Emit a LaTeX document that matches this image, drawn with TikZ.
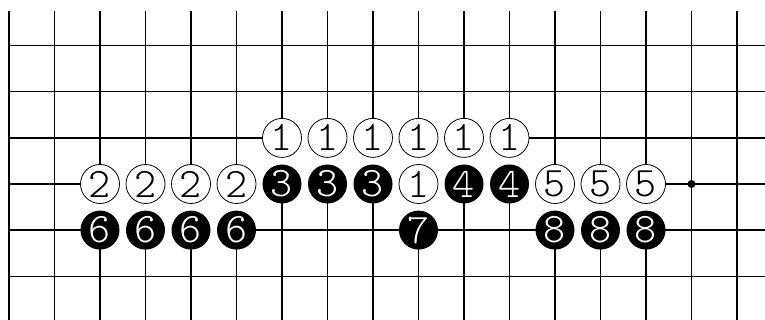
\documentclass[tikz,border=0pt]{standalone}
\newcommand\digitfont{\fontsize{42}{42}\fontfamily{lmtt}\fontseries{l}\selectfont}
\begin{document}
\begin{tikzpicture}[x=1pt,y=-1pt,
  grid/.style={line width=1.4pt,black},
  bridge/.style={line width=5pt,white},
  wst/.style={circle,draw=black,line width=0.8pt,fill=white,minimum size=39pt,inner sep=0pt,font=\digitfont},
  bst/.style={circle,fill=black,text=white,minimum size=39pt,inner sep=0pt,font=\digitfont}]
\useasboundingbox[fill=white] (0,0) rectangle (765,320);
% grid points
\foreach \k in {0,...,16}{
  \foreach \j in {0,...,5}{
    \coordinate (p-\k-\j) at ({9+45.5*\k},{45.7+46.1*\j});
  }
  \coordinate (t-\k) at ({9+45.5*\k},11);
  \coordinate (b-\k) at ({9+45.5*\k},320);
}
% grid lines
\foreach \k in {0,...,16}{
  \draw[grid] (t-\k) -- (b-\k);
}
\foreach \j in {0,...,5}{
  \coordinate (r-\j) at (765,{45.7+46.1*\j});
  \draw[grid] (p-0-\j) -- (r-\j);
}
% hide lines between adjacent stones
\draw[bridge] (p-6-2) -- (p-11-2);
\draw[bridge] (p-2-3) -- (p-14-3);
\draw[bridge] (p-2-4) -- (p-5-4);
\draw[bridge] (p-12-4) -- (p-14-4);
\foreach \k in {6,...,11}{\draw[bridge] (p-\k-2) -- (p-\k-3);}
\foreach \k in {2,3,4,5,9,12,13,14}{\draw[bridge] (p-\k-3) -- (p-\k-4);}
% star point
\fill[black] (p-15-3) circle (4pt);
% white stones
\foreach \k/\j/\n in {6/2/1,7/2/1,8/2/1,9/2/1,10/2/1,11/2/1,
  2/3/2,3/3/2,4/3/2,5/3/2,9/3/1,12/3/5,13/3/5,14/3/5}{
  \node[wst] (s-\k-\j) at (p-\k-\j) {\n};
}
% black stones
\foreach \k/\j/\n in {6/3/3,7/3/3,8/3/3,10/3/4,11/3/4,
  2/4/6,3/4/6,4/4/6,5/4/6,9/4/7,12/4/8,13/4/8,14/4/8}{
  \node[bst] (s-\k-\j) at (p-\k-\j) {\n};
}
\end{tikzpicture}
\end{document}
